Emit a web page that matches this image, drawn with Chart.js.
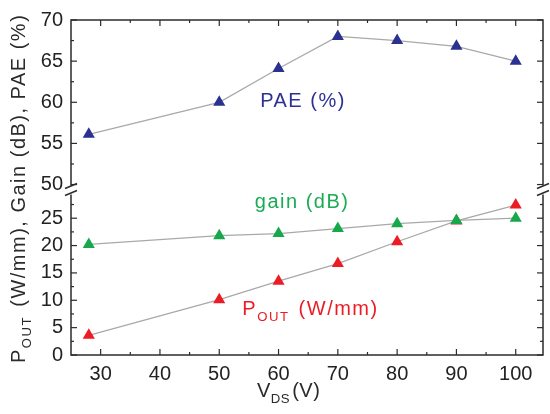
<!DOCTYPE html>
<html>
<head>
<meta charset="utf-8">
<script src="https://cdn.jsdelivr.net/npm/chart.js@4"></script>
<style>
  html, body { margin: 0; padding: 0; background: #fff; }
  canvas { display: block; }
</style>
</head>
<body>
<canvas id="chart" width="550" height="414"></canvas>
<script>
'use strict';

// drain voltage sweep (V)
const vds = [28, 50, 60, 70, 80, 90, 100];
// power added efficiency (%)
const pae = [56.1, 60.0, 64.1, 68.0, 67.5, 66.8, 65.0];
// gain (dB)
const gain = [20.2, 21.8, 22.2, 23.1, 24.0, 24.6, 25.0];
// output power density (W/mm)
const pout = [3.6, 10.1, 13.5, 16.7, 20.7, 24.5, 27.4];

const xTicks = [30, 40, 50, 60, 70, 80, 90, 100];
const yTopTicks = [50, 55, 60, 65, 70];
const yBottomTicks = [0, 5, 10, 15, 20, 25];

(function (win) {

  const FONT = '"Liberation Sans", Arial, sans-serif';
  const AXIS = '#2b2b2b';
  const LINE = '#a9a9a9';
  const BLUE = '#2b3190';
  const GREEN = '#17a84b';
  const RED = '#ec1c24';

  /**
   * Pairs the x values with one series.
   * @param ys {number[]}
   */
  function toPoints(ys) {
    return vds.map((v, i) => ({ x: v, y: ys[i] }));
  }

  function series(label, ys, color, axis) {
    return {
      label: label,
      data: toPoints(ys),
      yAxisID: axis,
      borderColor: LINE,
      borderWidth: 1.3,
      pointStyle: 'triangle',
      pointRadius: 7,
      pointBorderWidth: 0,
      pointBackgroundColor: color,
      pointBorderColor: color,
      fill: false,
      tension: 0
    };
  }

  /**
   * Draws a run of text pieces, some as subscripts, from (x, y) going right.
   */
  function drawRich(ctx, x, y, parts, size, color, spacing) {
    ctx.fillStyle = color;
    ctx.textBaseline = 'middle';
    ctx.textAlign = 'left';
    ctx.letterSpacing = (spacing === undefined ? 1.5 : spacing) + 'px';
    let cx = x;
    parts.forEach(p => {
      const s = p.sub ? size * 0.66 : size;
      ctx.font = `${s}px ${FONT}`;
      ctx.fillText(p.t, cx, p.sub ? y + size * 0.42 : y);
      cx += ctx.measureText(p.t).width + (p.sub ? 2 : 0);
    });
    ctx.letterSpacing = '0px';
  }

  function fixedTicks(values) {
    return scale => { scale.ticks = values.map(v => ({ value: v })); };
  }

  // frame, inward ticks, axis break marks and the in-plot labels
  const decorations = {
    id: 'decorations',
    afterDraw(chart) {
      const ctx = chart.ctx;
      const a = chart.chartArea;
      const sx = chart.scales.x;
      const yt = chart.scales.yTop;
      const yb = chart.scales.yBot;

      ctx.save();
      ctx.strokeStyle = AXIS;
      ctx.lineWidth = 1.5;
      ctx.strokeRect(a.left, a.top, a.right - a.left, a.bottom - a.top);

      const tick = (x1, y1, x2, y2) => {
        ctx.beginPath();
        ctx.moveTo(x1, y1);
        ctx.lineTo(x2, y2);
        ctx.stroke();
      };

      ctx.lineWidth = 1.2;
      const xMinor = xTicks.map(v => v + 5).filter(v => v < 105);
      xTicks.forEach(v => {
        const px = sx.getPixelForValue(v);
        tick(px, a.bottom, px, a.bottom - 6);
        tick(px, a.top, px, a.top + 6);
      });
      xMinor.forEach(v => {
        const px = sx.getPixelForValue(v);
        tick(px, a.bottom, px, a.bottom - 3);
        tick(px, a.top, px, a.top + 3);
      });
      [[yt, yTopTicks], [yb, yBottomTicks]].forEach(([sc, vals]) => {
        vals.forEach(v => {
          const py = sc.getPixelForValue(v);
          tick(a.left, py, a.left + 6, py);
          tick(a.right, py, a.right - 6, py);
          const m = v + 2.5;
          if (m < sc.max) {
            const pm = sc.getPixelForValue(m);
            tick(a.left, pm, a.left + 3, pm);
            tick(a.right, pm, a.right - 3, pm);
          }
        });
      });

      // axis break on both sides
      const gap = yt.bottom;
      [a.left, a.right].forEach(x => {
        ctx.fillStyle = '#fff';
        ctx.fillRect(x - 3, gap - 4, 6, 9);
        ctx.lineWidth = 1.5;
        tick(x - 6, gap - 1, x + 6, gap - 6);
        tick(x - 6, gap + 6, x + 6, gap + 1);
      });

      // series labels inside the plot
      drawRich(ctx, sx.getPixelForValue(56.9), yt.getPixelForValue(60.1),
        [{ t: 'PAE (%)' }], 20, '#2e3192');
      drawRich(ctx, sx.getPixelForValue(56.0), yb.getPixelForValue(27.8),
        [{ t: 'gain (dB)' }], 20, '#1aab55');
      drawRich(ctx, sx.getPixelForValue(53.9), yb.getPixelForValue(8.4),
        [{ t: 'P' }, { t: 'OUT', sub: true }, { t: ' (W/mm)' }], 20, RED);

      // axis titles
      drawRich(ctx, 257, 391, [{ t: 'V' }, { t: 'DS', sub: true }, { t: '(V)' }], 20, AXIS, 0.5);
      ctx.translate(19, 363);
      ctx.rotate(-Math.PI / 2);
      drawRich(ctx, 0, 0,
        [{ t: 'P' }, { t: 'OUT', sub: true }, { t: ' (W/mm), Gain (dB), PAE (%)' }], 20, AXIS);
      ctx.restore();
    }
  };

  const tickFont = { family: FONT, size: 20 };
  const tickOpts = (pad) => ({ font: tickFont, color: '#222', padding: pad, autoSkip: false, maxRotation: 0 });

  new Chart(document.getElementById('chart'), {
    type: 'line',
    data: {
      datasets: [
        series('PAE (%)', pae, BLUE, 'yTop'),
        series('gain (dB)', gain, GREEN, 'yBot'),
        series('POUT (W/mm)', pout, RED, 'yBot')
      ]
    },
    options: {
      responsive: false,
      animation: false,
      devicePixelRatio: 1,
      layout: { padding: { top: 17, right: 5, left: 0, bottom: 0 } },
      plugins: {
        legend: { display: false },
        tooltip: { enabled: false }
      },
      scales: {
        x: {
          type: 'linear',
          position: 'bottom',
          min: 25,
          max: 104.6,
          grid: { display: false, drawTicks: false },
          border: { display: false },
          afterBuildTicks: fixedTicks(xTicks),
          afterFit: scale => { scale.height = 59; },
          ticks: tickOpts(7)
        },
        yTop: {
          type: 'linear',
          position: 'left',
          stack: 'brk',
          stackWeight: 171,
          weight: 1,
          min: 49.4,
          max: 70,
          grid: { display: false, drawTicks: false },
          border: { display: false },
          afterBuildTicks: fixedTicks(yTopTicks),
          afterFit: scale => { scale.width = 71; },
          ticks: tickOpts(8)
        },
        yBot: {
          type: 'linear',
          position: 'left',
          stack: 'brk',
          stackWeight: 167,
          weight: 0,
          min: 0,
          max: 30.25,
          grid: { display: false, drawTicks: false },
          border: { display: false },
          afterBuildTicks: fixedTicks(yBottomTicks),
          afterFit: scale => { scale.width = 71; },
          ticks: tickOpts(8)
        }
      }
    },
    plugins: [decorations]
  });

})(window);
</script>
</body>
</html>
